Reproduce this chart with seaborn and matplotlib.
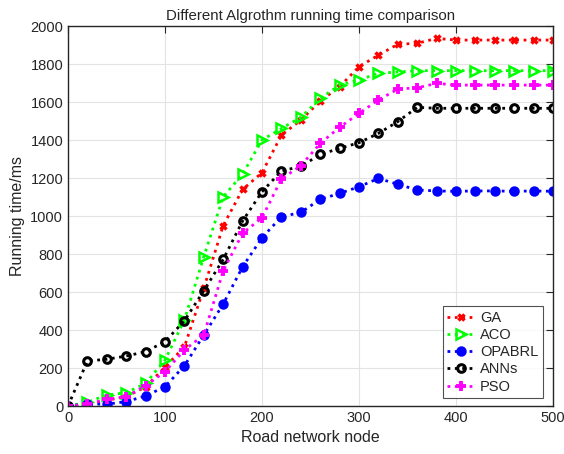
import numpy as np
import pandas as pd
import seaborn as sns
import matplotlib.pyplot as plt

# 데이터
nodes = list(range(0, 501, 20))
ga = [0, 10, 30, 50, 100, 205, 312, 620, 950, 1140, 1228, 1426, 1505, 1605, 1681,
      1786, 1847, 1904, 1909, 1935, 1926, 1926, 1926, 1926, 1926, 1926]
aco = [0, 20, 58, 70, 119, 242, 453, 786, 1101, 1221, 1400, 1461, 1519, 1619, 1689,
       1716, 1751, 1758, 1765, 1765, 1765, 1765, 1765, 1765, 1765, 1765]
opabrl = [0, 10, 10, 23, 53, 102, 212, 374, 537, 733, 886, 996, 1019, 1088, 1119,
          1154, 1198, 1167, 1137, 1132, 1130, 1132, 1132, 1130, 1132, 1130]
anns = [0, 237, 246, 263, 286, 339, 449, 607, 772, 974, 1128, 1237, 1261, 1324, 1356,
        1386, 1435, 1497, 1572, 1567, 1567, 1567, 1567, 1567, 1567, 1567]
pso = [0, 10, 35, 49, 107, 181, 295, 374, 712, 909, 991, 1195, 1265, 1382, 1467,
       1540, 1611, 1668, 1675, 1698, 1689, 1689, 1689, 1689, 1689, 1689]

# (이름, 값, 색, 마커, 채움, 크기, 테두리)
series = [
    ("GA", ga, "red", "x", "red", 5, 2.5),
    ("ACO", aco, "lime", ">", "none", 7, 1.8),
    ("OPABRL", opabrl, "blue", "o", "blue", 6, 1.5),
    ("ANNs", anns, "black", "o", "none", 5.5, 2.2),
    ("PSO", pso, "magenta", "+", "magenta", 7, 2.8),
]

sns.set_style("whitegrid")
plt.rcParams['font.family'] = ['Liberation Sans', 'DejaVu Sans']

fig = plt.figure(figsize=(5.64, 4.54), dpi=100)
ax = fig.add_axes([0.1206, 0.1057, 0.86, 0.837])

for name, vals, col, mk, mfc, ms, mew in series:
    df = pd.DataFrame({"node": nodes, "time": vals})
    sns.lineplot(data=df, x="node", y="time", ax=ax, color=col, linestyle=":",
                 linewidth=2.0, marker=mk, markersize=ms, markerfacecolor=mfc,
                 markeredgecolor=col, markeredgewidth=mew, label=name)

ax.set_xlim(0, 500)
ax.set_ylim(0, 2000)
ax.set_xticks(range(0, 501, 100))
ax.set_yticks(range(0, 2001, 200))
ax.grid(True, color="#e3e3e3", linewidth=0.8)
for s in ax.spines.values():
    s.set_visible(True)
    s.set_color("#262626")
    s.set_linewidth(1.0)
ax.tick_params(direction="in", top=True, right=True, length=5, labelsize=10.5,
               colors="#262626", width=0.8)
ax.set_title("Different Algrothm running time comparison", fontsize=10.8, pad=4)
ax.set_xlabel("Road network node", fontsize=11.5)
ax.set_ylabel("Running time/ms", fontsize=11.5)

leg = ax.legend(loc="lower right", bbox_to_anchor=(0.979, 0.021), borderaxespad=0,
                frameon=True, fancybox=False, edgecolor="#262626", fontsize=10.5,
                handlelength=1.9, handletextpad=0.35, borderpad=0.3,
                labelspacing=0.22)
leg.get_frame().set_linewidth(0.8)

fig.savefig("out.png", dpi=100)
